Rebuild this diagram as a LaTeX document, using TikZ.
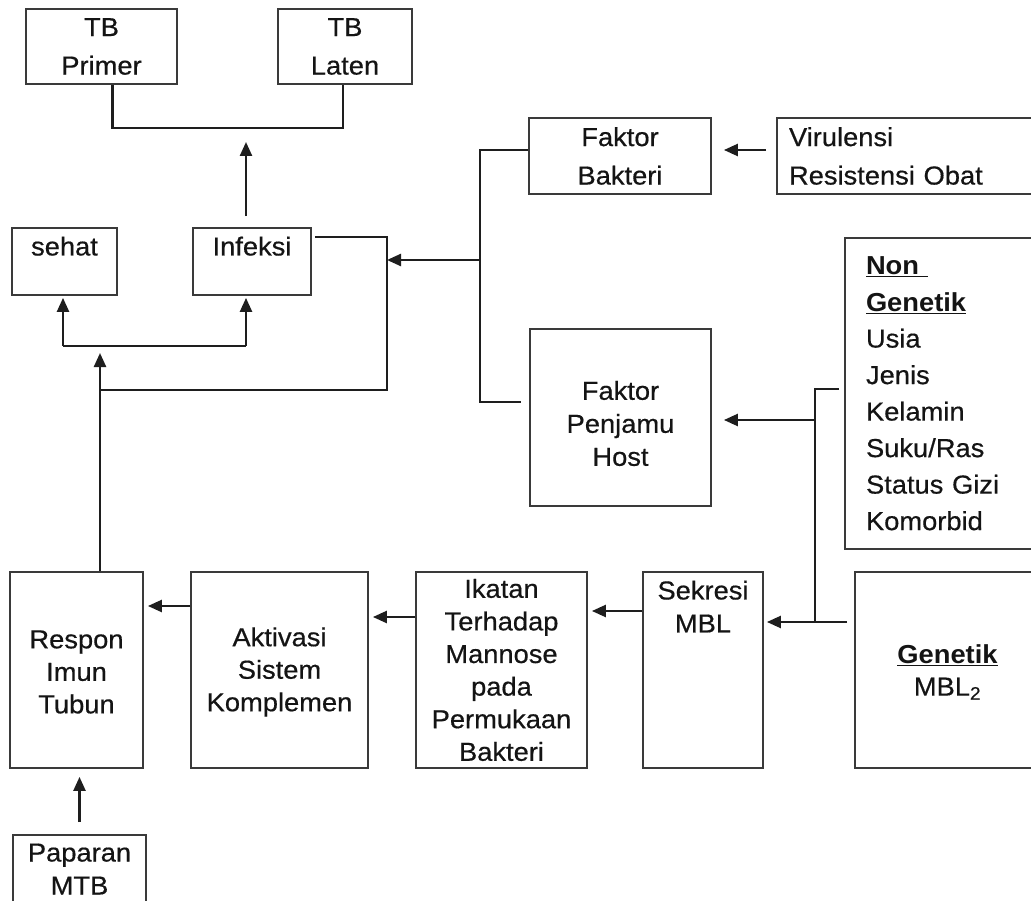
\documentclass[tikz,border=0pt]{standalone}
\usepackage{fontspec}
\setmainfont[FakeStretch=1.05,UprightFeatures={FakeBold=0.5}]{Liberation Sans}
\usetikzlibrary{arrows.meta,calc}
\definecolor{boxc}{HTML}{3A3A3A}
\definecolor{linec}{HTML}{1E1E1E}
\definecolor{txtc}{HTML}{141414}
\begin{document}
\begin{tikzpicture}[x=1pt,y=-1pt,
  box/.style={draw=boxc,line width=1.8pt,inner sep=0pt,align=center,text=txtc,font=\fontsize{26}{33}\selectfont},
  wide/.style={font=\fontsize{26}{38.5}\selectfont},
  toptext/.style={label={[anchor=north,yshift=-6pt,align=center,text=txtc,font=\fontsize{26}{33}\selectfont]north:#1}},
  midtext/.style={label={[anchor=center,yshift=-6pt,align=center,text=txtc,font=\fontsize{26}{33}\selectfont]center:#1}},
  lowtext/.style={label={[anchor=center,yshift=-2pt,align=center,text=txtc,font=\fontsize{26}{32.5}\selectfont]center:#1}},
  ln/.style={draw=linec,line width=2.4pt},
  arr/.style={ln,-{Triangle[length=14pt,width=12pt]}}]
\useasboundingbox (0,0) rectangle (1031,901);
\fill[white] (0,0) rectangle (1031,901);

% boxes
\node[box,wide,minimum width=151pt,minimum height=75pt] (prim) at (101.5,46.5) {TB\\Primer};
\node[box,wide,minimum width=134pt,minimum height=75pt] (lat) at (345,46.5) {TB\\Laten};
\node[box,minimum width=105pt,minimum height=67pt,toptext=sehat] (seh) at (64.5,261.5) {};
\node[box,minimum width=118pt,minimum height=67pt,toptext=Infeksi] (inf) at (252,261.5) {};
\node[box,wide,minimum width=182pt,minimum height=76pt] (fb) at (620,156) {Faktor\\Bakteri};
\node[box,wide,align=left,inner xsep=12pt,text width=239pt,minimum height=76pt] (vir) at (908.5,156) {Virulensi\\Resistensi Obat};
\node[box,align=left,inner xsep=21pt,text width=153pt,minimum height=311pt,font=\fontsize{26}{36.5}\selectfont] (ng) at (942.5,393.5)
  {\underline{\textbf{Non\ }}\\\underline{\textbf{Genetik}}\\Usia\\Jenis\\Kelamin\\Suku/Ras\\Status Gizi\\Komorbid};
\node[box,minimum width=181pt,minimum height=177pt,midtext={Faktor\\Penjamu\\Host}] (fp) at (620.5,417.5) {};
\node[box,minimum width=133pt,minimum height=196pt,lowtext={Respon\\Imun\\Tubun}] (res) at (76.5,670) {};
\node[box,minimum width=177pt,minimum height=196pt,lowtext={Aktivasi\\Sistem\\Komplemen}] (akt) at (279.5,670) {};
\node[box,minimum width=171pt,minimum height=196pt,font=\fontsize{26}{32.6}\selectfont] (ikt) at (501.5,670) {Ikatan\\Terhadap\\Mannose\\pada\\Permukaan\\Bakteri};
\node[box,minimum width=120pt,minimum height=196pt,toptext={Sekresi\\MBL}] (sek) at (703,670) {};
\node[box,minimum width=185pt,minimum height=196pt,lowtext={\underline{\textbf{Genetik}}\\MBL\textsubscript{2}}] (gen) at (947.5,670) {};
\node[box,minimum width=133pt,minimum height=75pt,toptext={Paparan\\MTB}] (pap) at (79.5,872.5) {};

% junction coordinates
\coordinate (tbj) at (246,128);
\coordinate (ja) at (387,390);
\coordinate (jb) at (100,390);
\coordinate (vt) at (480,150);
\coordinate (vm) at (480,260);
\coordinate (vb) at (480,402);
\coordinate (ngj) at (815,389);
\coordinate (fpj) at (815,420);
\coordinate (gj) at (815,622);
\coordinate (rj) at (100,346);
\coordinate (sj) at (63,346);
\coordinate (ij) at (246,346);

% top
\draw[ln] ($(prim.south)+(11,0)$) |- (tbj) -| ($(lat.south)+(-2,0)$);
\draw[arr] ($(inf.north -| tbj)+(0,-11)$) -- ($(tbj)+(0,14)$);

% infeksi right branch
\draw[ln] ($(inf.north east)+(3,10)$) -| (ja) -- (jb);

% faktor branch
\draw[ln] (fb.west |- vt) -- (vt) -- (vb) -- ($(fp.west |- vb)+(-8,0)$);
\draw[arr] (vm) -- (ja |- vm);
\draw[arr] ($(vir.west |- vt)+(-10,0)$) -- ($(fb.east |- vt)+(12,0)$);

% genetic branches
\draw[ln] ($(ng.west |- ngj)+(-5,0)$) -- (ngj) -- (gj);
\draw[arr] (fpj) -- ($(fp.east |- fpj)+(12,0)$);
\draw[arr] ($(gen.west |- gj)+(-7,0)$) -- ($(sek.east |- gj)+(3,0)$);

% bottom chain
\draw[arr] ($(sek.west)+(0,-59)$) -- ($(ikt.east)+(4,-59)$);
\draw[arr] ($(ikt.west)+(0,-53)$) -- ($(akt.east)+(4,-53)$);
\draw[arr] ($(akt.west)+(0,-64)$) -- ($(res.east)+(4,-64)$);
\draw[arr] ($(pap.north)+(0,-12)$) -- ($(pap.north |- res.south)+(0,8)$);

% respon up
\draw[arr] (res.north -| rj) -- ($(rj)+(0,7)$);
\draw[ln] (sj) -- (ij);
\draw[arr] (sj) -- ($(seh.south -| sj)+(0,2)$);
\draw[arr] (ij) -- ($(inf.south -| ij)+(0,2)$);
\end{tikzpicture}
\end{document}
